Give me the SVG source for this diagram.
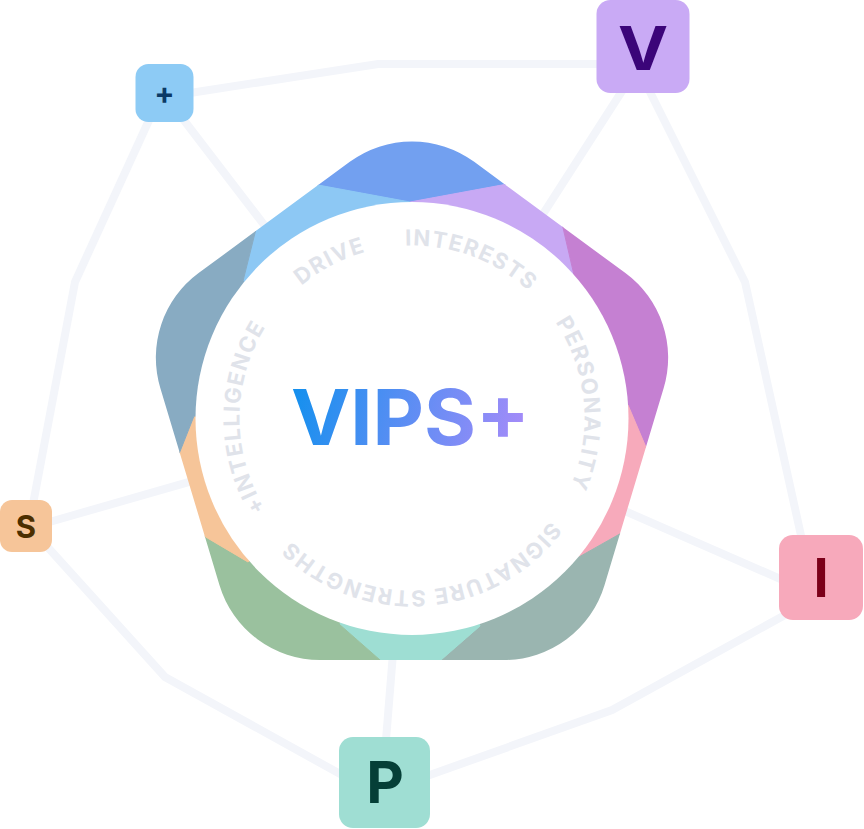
<svg xmlns="http://www.w3.org/2000/svg" width="864" height="829" viewBox="0 0 864 829">
<style>
.conn{fill:none;stroke:#F3F5FA;stroke-width:8;stroke-linejoin:miter}
.ring{font-family:Inter,"Open Sans","Liberation Sans",sans-serif;font-weight:700;font-size:22px;fill:#E0E3EA;letter-spacing:1.5px}
.lbl{font-family:Inter,"Open Sans","Liberation Sans",sans-serif;font-weight:700;text-anchor:middle}
.seg{stroke-width:1}
</style>
<defs>
<clipPath id="pent">
<path d="M349.8,161.8 A105,105 0 0 1 474.2,161.8 L625.4,273.1 A105,105 0 0 1 663.7,387.9 L604.5,585.2 A105,105 0 0 1 503.9,660 L320.1,660 A105,105 0 0 1 219.5,585.2 L160.3,387.9 A105,105 0 0 1 198.6,273.1 Z"/>
</clipPath>
<linearGradient id="vg" gradientUnits="userSpaceOnUse" x1="295" y1="388" x2="525" y2="448">
<stop offset="0" stop-color="#1590EE"/>
<stop offset="1" stop-color="#A88BF9"/>
</linearGradient>
<path id="ringpath" d="M279.86,307.12 A172,172 0 0 1 544.14,528.88 A172,172 0 0 1 279.86,307.12"/>
</defs>

<g id="connectors">
<path class="conn" d="M190,93 L378,64 L600,64"/>
<path class="conn" d="M150,118 L75,282 L33,504"/>
<path class="conn" d="M183,119 L412,418"/>
<path class="conn" d="M624,88 L412,418"/>
<path class="conn" d="M648,88 L745,282 L802,540"/>
<path class="conn" d="M46,523 L412,418"/>
<path class="conn" d="M43,542 L165,677 L342,775"/>
<path class="conn" d="M785,581 L412,418"/>
<path class="conn" d="M785,615 L612,710 L427,776"/>
<path class="conn" d="M386,740 L412,418"/>
</g>

<g id="hub">
<g clip-path="url(#pent)">
<polygon class="seg" fill="#72A0F0" stroke="#72A0F0" points="410,202 272,176.5 272,80 548,80 548,176.5"/>
<polygon class="seg" fill="#8DC8F4" stroke="#8DC8F4" points="412,418 243,281 261,209 272,176.5 410,202"/>
<polygon class="seg" fill="#C8A9F4" stroke="#C8A9F4" points="412,418 410,202 548,176.5 554,189 574,275"/>
<polygon class="seg" fill="#C580D2" stroke="#C580D2" points="412,418 574,275 554,189 720,250 720,470 662,485 628,405"/>
<polygon class="seg" fill="#F7AABB" stroke="#F7AABB" points="412,418 628,405 662,485 657,513 579,557"/>
<polygon class="seg" fill="#9AB5B0" stroke="#9AB5B0" points="412,418 579,557 657,513 720,560 720,700 431.8,668 480,626"/>
<polygon class="seg" fill="#9EDED3" stroke="#9EDED3" points="412,418 480,626 431.8,668 389.1,668 339,624"/>
<polygon class="seg" fill="#9AC19E" stroke="#9AC19E" points="412,418 339,624 389.1,668 100,700 100,560 182,523 248,562"/>
<polygon class="seg" fill="#F6C599" stroke="#F6C599" points="412,418 248,562 182,523 171.5,473 194,416"/>
<polygon class="seg" fill="#88ABC2" stroke="#88ABC2" points="412,418 194,416 171.5,473 100,470 100,250 261,209 243,281"/>
</g>
<circle cx="412" cy="418.5" r="216.5" fill="#FFFFFF"/>
<text class="ring"><textPath href="#ringpath" startOffset="67.5" text-anchor="middle">DRIVE</textPath></text>
<text class="ring"><textPath href="#ringpath" startOffset="211.7" text-anchor="middle">INTERESTS</textPath></text>
<text class="ring"><textPath href="#ringpath" startOffset="406.1" text-anchor="middle">PERSONALITY</textPath></text>
<text class="ring"><textPath href="#ringpath" startOffset="679.4" text-anchor="middle">SIGNATURE STRENGTHS</textPath></text>
<text class="ring"><textPath href="#ringpath" startOffset="963.6" text-anchor="middle">+INTELLIGENCE</textPath></text>
<text x="291" y="445" textLength="239" lengthAdjust="spacingAndGlyphs" font-family="Inter,'Open Sans','Liberation Sans',sans-serif" font-weight="700" font-size="77" fill="url(#vg)">VIPS+</text>
</g>

<g id="node-plus">
<rect x="135.5" y="64" width="58" height="58" rx="13" fill="#8DCBF5"/>
<text class="lbl" x="164.5" y="104" font-size="30" fill="#0B3A66">+</text>
</g>
<g id="node-v">
<rect x="596.5" y="0" width="93" height="93" rx="14" fill="#C9AAF5"/>
<text class="lbl" x="643" y="70" font-size="60" fill="#3B0579" transform="translate(643,0) scale(1.12,1) translate(-643,0)">V</text>
</g>
<g id="node-s">
<rect x="0" y="500" width="52" height="52" rx="12" fill="#F6C599"/>
<text class="lbl" x="26" y="538" font-size="31" fill="#4C2F00">S</text>
</g>
<g id="node-i">
<rect x="779" y="535" width="84" height="85" rx="14" fill="#F7A9BB"/>
<text class="lbl" x="821" y="597" font-size="54" fill="#7B0019">I</text>
</g>
<g id="node-p">
<rect x="339" y="737" width="91" height="91" rx="14" fill="#9FDED3"/>
<text class="lbl" x="385" y="803" font-size="58" fill="#053F37">P</text>
</g>
</svg>
